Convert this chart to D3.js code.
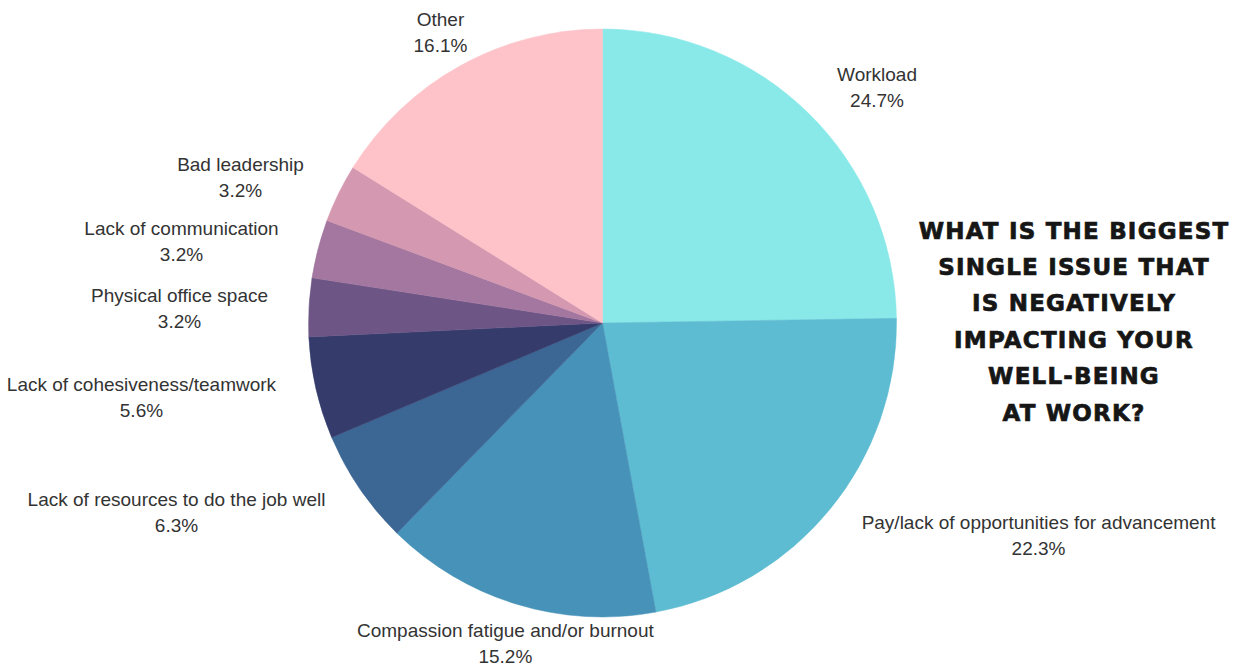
<!DOCTYPE html>
<html>
<head>
<meta charset="utf-8">
<script src="https://cdn.jsdelivr.net/npm/d3@7"></script>
<style>
  html, body { margin: 0; padding: 0; background: #fff; }
  svg { display: block; }
</style>
</head>
<body>
<svg id="chart" width="1244" height="665"></svg>
<script>
// Survey answers, in drawing order (clockwise from 12 o'clock)
const categories = [
  "Workload",
  "Pay/lack of opportunities for advancement",
  "Compassion fatigue and/or burnout",
  "Lack of resources to do the job well",
  "Lack of cohesiveness/teamwork",
  "Physical office space",
  "Lack of communication",
  "Bad leadership",
  "Other"
];
const percents = [24.7, 22.3, 15.2, 6.3, 5.6, 3.2, 3.2, 3.2, 16.1];
const sliceColors = ["#89e8e8", "#5ebcd2", "#4792b8", "#3c6795", "#353c6c", "#6d5586", "#a3779f", "#d498b0", "#fdc3c9"];
const titleLines = ["WHAT IS THE BIGGEST", "SINGLE ISSUE THAT", "IS NEGATIVELY", "IMPACTING YOUR", "WELL-BEING", "AT WORK?"];

// Label nudges away from the radial anchor so each text block clears the pie
const labelNudge = [[36, 0], [173, -9], [2, -11], [-145, -8.5], [-129.5, -7.4], [-83.5, -3], [-92, -2.5], [-56.8, -2.3], [3, 0]];

const svg = d3.select("#chart");
const cx = 602.5, cy = 323, radius = 294;

const data = categories.map((c, i) => ({ label: c, value: percents[i], color: sliceColors[i], idx: i }));

const pie = d3.pie().value(d => d.value).sort(null);
const arc = d3.arc().innerRadius(0).outerRadius(radius);
const labelArc = d3.arc().innerRadius(340).outerRadius(340);

const g = svg.append("g").attr("transform", `translate(${cx},${cy})`);
const arcs = pie(data);

g.selectAll("path.slice")
  .data(arcs)
  .join("path")
  .attr("class", "slice")
  .attr("d", arc)
  .attr("fill", d => d.data.color)
  .attr("stroke", d => d.data.color)
  .attr("stroke-width", 0.5);

const labels = g.selectAll("text.lbl")
  .data(arcs)
  .join("text")
  .attr("class", "lbl")
  .attr("text-anchor", "middle")
  .attr("font-family", "'Liberation Sans', Arial, sans-serif")
  .attr("font-size", 19)
  .attr("fill", "#333")
  .attr("transform", d => {
    const [x, y] = labelArc.centroid(d);
    const n = labelNudge[d.data.idx];
    return `translate(${x + n[0]},${y + n[1]})`;
  });

labels.append("tspan").attr("x", 0).attr("y", 0).text(d => d.data.label);
labels.append("tspan").attr("x", 0).attr("y", 26).text(d => d.data.value.toFixed(1) + "%");

// Title block on the right
const title = svg.append("text")
  .attr("text-anchor", "middle")
  .attr("font-family", "'DejaVu Sans', sans-serif")
  .attr("font-weight", "bold")
  .attr("font-size", 23)
  .attr("letter-spacing", 1.2)
  .attr("fill", "#161616")
  .attr("stroke", "#161616")
  .attr("stroke-width", 0.7);
title.selectAll("tspan")
  .data(titleLines)
  .join("tspan")
  .attr("x", 1074)
  .attr("y", (d, i) => 238.5 + i * 36.4)
  .text(d => d);
</script>
</body>
</html>
